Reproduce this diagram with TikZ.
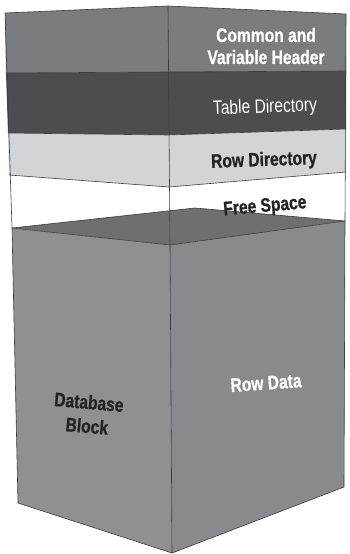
\documentclass[tikz,border=0pt]{standalone}
\usepackage{fontspec}
\newfontfamily\cond{Liberation Sans}[FakeStretch=0.8, BoldFeatures={FakeStretch=0.8, FakeBold=0.8}]
\definecolor{hdr}{HTML}{7B7C7E}
\definecolor{tbl}{HTML}{4D4D4F}
\definecolor{rowd}{HTML}{D3D4D6}
\definecolor{topf}{HTML}{6E6F71}
\definecolor{leftf}{HTML}{8F9092}
\definecolor{rightf}{HTML}{898A8D}
\definecolor{edge}{HTML}{3C3C3E}
\definecolor{dtext}{HTML}{232325}
\tikzset{
  edgeline/.style={draw=edge, line width=0.6pt, line join=round},
  lbl/.style={font=\cond\fontsize{19.5}{22}\selectfont, align=center, inner sep=0pt},
  wlbl/.style={lbl, text=white, font=\cond\bfseries\fontsize{19.5}{22}\selectfont},
  dlbl/.style={lbl, text=dtext, font=\cond\bfseries\fontsize{19.5}{24}\selectfont},
}
\begin{document}
\begin{tikzpicture}[x=1pt, y=-1pt]
\useasboundingbox (0,0) rectangle (349,554);
% coordinates
\coordinate (t0) at (5,13);   \coordinate (t1) at (168,6);   \coordinate (t2) at (346,14);
\coordinate (h0) at (6,73);   \coordinate (h1) at (168,72);  \coordinate (h2) at (346,71);
\coordinate (r0) at (8,133);  \coordinate (r1) at (168,135); \coordinate (r2) at (346,129);
\coordinate (f0) at (9,175);  \coordinate (f1) at (169,187); \coordinate (f2) at (346,172);
\coordinate (L) at (12,228);  \coordinate (B) at (195,208);  \coordinate (R) at (345,221);
\coordinate (F) at (170,245);
\coordinate (LB) at (18,503); \coordinate (FB) at (172,553); \coordinate (RB) at (344,487);
% layers
\fill[hdr] (t0) -- (t1) -- (t2) -- (h2) -- (h1) -- (h0) -- cycle;
\fill[tbl] (h0) -- (h1) -- (h2) -- (r2) -- (r1) -- (r0) -- cycle;
\fill[rowd] (r0) -- (r1) -- (r2) -- (f2) -- (f1) -- (f0) -- cycle;
\fill[white] (f0) -- (f1) -- (f2) -- (R) -- (B) -- (L) -- cycle;
% lower box
\fill[topf] (L) -- (B) -- (R) -- (F) -- cycle;
\fill[leftf] (L) -- (F) -- (FB) -- (LB) -- cycle;
\fill[rightf] (F) -- (R) -- (RB) -- (FB) -- cycle;
% edges
\draw[edgeline] (t0) -- (t1) -- (t2);
\draw[edgeline] (h0) -- (h1) -- (h2);
\draw[edgeline] (r0) -- (r1) -- (r2);
\draw[edgeline] (f0) -- (f1) -- (f2);
\draw[edgeline] (L) -- (B) -- (R);
\draw[edgeline] (L) -- (F) -- (R);
\draw[edgeline] (t0) -- (L) -- (LB) -- (FB) -- (RB) -- (R) -- (t2);
\draw[edgeline] (t1) -- (F) -- (FB);
% labels
\node[wlbl] (hdrl) at (266,46) {Common and\\Variable Header};
\node[lbl, text=white, rotate=2] (tbll) at (265,108) {Table Directory};
\node[dlbl, rotate=2] (rowl) at (264,161) {Row Directory};
\node[dlbl, rotate=5] (free) at (265,207) {Free Space};
\node[wlbl, rotate=4] (rdat) at (266,383) {Row Data};
\node[dlbl, rotate=-5] (dbb) at (88,414) {Database\\Block};
\end{tikzpicture}
\end{document}
